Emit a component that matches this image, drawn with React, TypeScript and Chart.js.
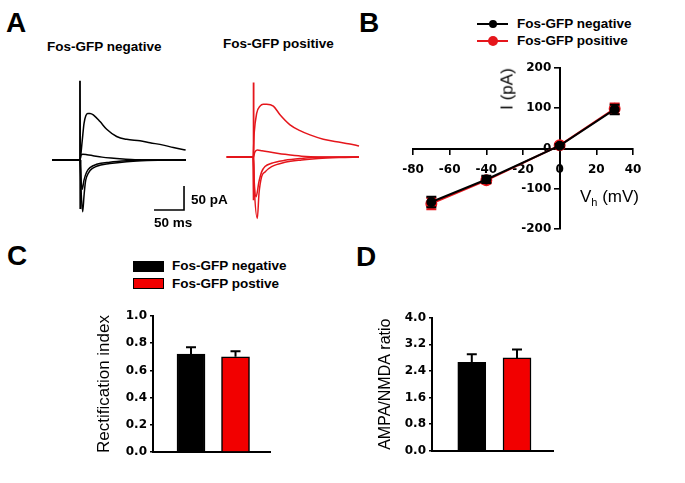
import React, { useEffect, useRef } from "react";
import { Chart, registerables } from "chart.js";
Chart.register(...registerables);

const BLACK = "#000000";
const RED_LINE = "#e5161c";
const RED_BAR = "#f20000";
const SANS = '"Liberation Sans", Arial, sans-serif';
const TICK_FONT = { family: '"DejaVu Sans", sans-serif', size: 12, weight: "bold" as const };

// ---------- Panel A: example traces, [time (ms), current (pA)] ----------
const negTraceUpper = [[11.7, 0], [57, 0], [58.3, 0], [62, 40], [65, 76], [68, 92], [71.1, 97], [75, 97], [80.5, 94], [91.7, 80], [102.8, 64], [119.4, 49], [136.1, 43], [158.3, 40], [175, 36], [197.2, 31], [213.9, 26], [234.4, 21]];
const negTraceSmall = [[11.7, 0], [58.3, 0], [60, 10], [63, 12], [70, 11], [80, 9], [95, 6], [110, 4], [130, 2], [150, 0.5], [235, 0]];
const negTraceDeep = [[11.7, 0], [58.3, 0], [60, -60], [62.8, -108], [65, -75], [67.2, -47], [69.4, -35], [75, -22], [86, -13], [108, -7.5], [136, -3.5], [170, -1], [235, 0]];
const negTraceMid = [[11.7, 0], [58.3, 0], [60, -40], [62, -61], [65, -42], [69.4, -25], [75, -16], [86, -9], [108, -4.5], [140, -1.5], [170, 0], [235, 0]];
const negArtifact = [[58.0, 0], [58.3, 165], [58.8, -100], [59.3, 0]];

const posTraceUpper = [[11.1, 0], [55, 0], [57, 50], [61.1, 91], [66.7, 106], [72, 110], [77.8, 110], [88.9, 106], [100, 88], [116.7, 67], [133.3, 55], [150, 46], [172.2, 37], [194.4, 32], [216.7, 27], [231.7, 23]];
const posTraceSmall = [[11.1, 0], [55.5, 0], [58, 10], [62, 14.6], [70, 13], [80.6, 11], [95, 8], [108, 5.6], [136, 1.6], [164, 0], [231.7, 0]];
const posTraceDeep = [[11.1, 0], [55.5, 0], [57, -60], [62.2, -128], [65, -76], [69.4, -41], [75, -31], [86, -20], [108, -11], [136, -6], [164, -3], [200, -1], [231.7, 0]];
const posTraceMid = [[11.1, 0], [55.5, 0], [57, -50], [60, -83], [65, -51], [69.4, -31], [75, -20], [86, -13], [108, -7], [136, -3], [164, -0.5], [231.7, 0]];
const posArtifact = [[55.2, 0], [55.5, 155], [56, -90], [56.5, 0]];

// scale bar: 50 ms x 50 pA
const scaleBarTime = [181.7, 231.7, 231.7];
const scaleBarCurrent = [-104.2, -104.2, -54.2];

// ---------- Panel B: I-V ----------
const ivVoltage = [-70, -40, 0, 30];
const ivNegCurrent = [-133, -77, 7, 97];
const ivNegSem = [13, 9, 4, 12];
const ivPosCurrent = [-137, -79, 8, 99];
const ivPosSem = [14, 8, 4, 13];

// ---------- Panels C & D ----------
const groups = ["Fos-GFP negative", "Fos-GFP postive"];
const rectIndex = [0.72, 0.7];
const rectSem = [0.05, 0.04];
const ampaNmda = [2.66, 2.79];
const ampaNmdaSem = [0.24, 0.25];

const errorBarPlugin = {
  id: "errorBars",
  afterDatasetDraw(chart: any, args: any) {
    const ds: any = chart.data.datasets[args.index];
    if (!ds.errors) return;
    const meta = chart.getDatasetMeta(args.index);
    const yScale = chart.scales[meta.yAxisID];
    const ctx = chart.ctx;
    ctx.save();
    ctx.strokeStyle = ds.errorColor;
    ctx.lineWidth = ds.errorWidth || 2;
    meta.data.forEach((el: any, i: number) => {
      const raw = ds.data[i];
      const v = typeof raw === "number" ? raw : raw.y;
      const e = ds.errors[i];
      const x = el.x;
      const yTop = yScale.getPixelForValue(v + e);
      const yBot = ds.errorUpOnly ? el.y : yScale.getPixelForValue(v - e);
      const cap = ds.errorCap / 2;
      ctx.beginPath();
      ctx.moveTo(x, yBot);
      ctx.lineTo(x, yTop);
      ctx.moveTo(x - cap, yTop);
      ctx.lineTo(x + cap, yTop);
      if (!ds.errorUpOnly) {
        ctx.moveTo(x - cap, yBot);
        ctx.lineTo(x + cap, yBot);
      }
      ctx.stroke();
    });
    ctx.restore();
  },
};

const toXY = (pts: number[][]) => pts.map(([x, y]) => ({ x, y }));

function traceConfig(traces: number[][][], artifact: number[][], color: string, withBar: boolean): any {
  const datasets: any[] = traces.map((t) => ({
    data: toXY(t),
    borderColor: color,
    borderWidth: 1.5,
    pointRadius: 0,
    cubicInterpolationMode: "monotone",
    fill: false,
  }));
  datasets.push({ data: toXY(artifact), borderColor: color, borderWidth: 1.8, pointRadius: 0, tension: 0, fill: false });
  if (withBar) {
    datasets.push({
      data: scaleBarTime.map((t, i) => ({ x: t, y: scaleBarCurrent[i] })),
      borderColor: BLACK,
      borderWidth: 1.6,
      pointRadius: 0,
      tension: 0,
      fill: false,
    });
  }
  return {
    type: "line",
    data: { datasets },
    options: {
      animation: false,
      responsive: false,
      events: [],
      plugins: { legend: { display: false }, tooltip: { enabled: false } },
      layout: { padding: 0 },
      scales: {
        x: { type: "linear", display: false, min: 0, max: 250 },
        y: { type: "linear", display: false, min: -137.5, max: 175 },
      },
    },
  };
}

const axisGrid = (tickLength: number) => ({
  drawOnChartArea: false,
  drawTicks: true,
  tickLength,
  lineWidth: 1.6,
  color: BLACK,
});
const axisBorder = { display: true, color: BLACK, width: 2 };

function ivConfig(): any {
  return {
    type: "line",
    data: {
      datasets: [
        {
          label: "Fos-GFP negative",
          data: ivVoltage.map((v, i) => ({ x: v, y: ivNegCurrent[i] })),
          borderColor: BLACK,
          backgroundColor: BLACK,
          pointBackgroundColor: BLACK,
          pointBorderColor: BLACK,
          borderWidth: 2,
          pointRadius: 4,
          tension: 0,
          errors: ivNegSem,
          errorColor: BLACK,
          errorCap: 10,
        },
        {
          label: "Fos-GFP positive",
          data: ivVoltage.map((v, i) => ({ x: v, y: ivPosCurrent[i] })),
          borderColor: RED_LINE,
          backgroundColor: RED_LINE,
          pointBackgroundColor: RED_LINE,
          pointBorderColor: RED_LINE,
          borderWidth: 2,
          pointRadius: 5,
          tension: 0,
          errors: ivPosSem,
          errorColor: RED_LINE,
          errorCap: 10,
        },
      ],
    },
    options: {
      animation: false,
      responsive: false,
      events: [],
      plugins: { legend: { display: false }, tooltip: { enabled: false } },
      layout: { padding: { left: 33, right: 47, top: 18, bottom: 16 } },
      scales: {
        x: {
          type: "linear",
          min: -80,
          max: 40,
          position: { y: 0 },
          ticks: { stepSize: 20, font: TICK_FONT, color: BLACK, padding: 9 },
          grid: axisGrid(5),
          border: axisBorder,
        },
        y: {
          type: "linear",
          min: -200,
          max: 200,
          position: { x: 0 },
          // labels of an axis placed at x=0 are drawn flush with the axis; trailing spaces leave the tick gap
          ticks: { stepSize: 100, font: TICK_FONT, color: BLACK, callback: (v: any) => `${v}\u00a0\u00a0` },
          grid: axisGrid(5),
          border: axisBorder,
        },
      },
    },
    plugins: [errorBarPlugin],
  };
}

function barConfig(values: number[], sems: number[], yMax: number, step: number, title: string, titleSize: number, titlePad: number, xMin: number, xMax: number, yWidth: number, xHeight: number, pad: any): any {
  return {
    type: "bar",
    data: {
      labels: groups,
      datasets: [
        {
          data: values.map((v, i) => ({ x: i, y: v })),
          backgroundColor: [BLACK, RED_BAR],
          borderColor: BLACK,
          borderWidth: 1.5,
          barThickness: 28,
          errors: sems,
          errorUpOnly: true,
          errorColor: BLACK,
          errorCap: 10,
        },
      ],
    },
    options: {
      animation: false,
      responsive: false,
      events: [],
      plugins: { legend: { display: false }, tooltip: { enabled: false } },
      layout: { padding: pad },
      scales: {
        x: {
          type: "linear",
          offset: false,
          bounds: "data",
          min: xMin,
          max: xMax,
          ticks: { display: false },
          grid: { display: false, offset: false },
          border: axisBorder,
          afterFit: (s: any) => {
            s.height = xHeight;
          },
        },
        y: {
          type: "linear",
          min: 0,
          max: yMax,
          ticks: { stepSize: step, font: TICK_FONT, color: BLACK, padding: 3, callback: (v: any) => Number(v).toFixed(1) },
          grid: axisGrid(3),
          border: axisBorder,
          title: { display: true, text: title, color: BLACK, font: { family: SANS, size: titleSize, weight: "normal" }, padding: { top: titlePad, bottom: 0 } },
          afterFit: (s: any) => {
            s.width = yWidth;
          },
        },
      },
    },
    plugins: [errorBarPlugin],
  };
}

function ChartCanvas({ left, top, width, height, makeConfig }: any) {
  const ref = useRef<HTMLCanvasElement>(null);
  useEffect(() => {
    const chart = new Chart(ref.current as HTMLCanvasElement, makeConfig());
    return () => chart.destroy();
  }, []);
  return <canvas ref={ref} width={width} height={height} style={{ position: "absolute", left, top, width, height }} />;
}

function T({ x, y, size, bold, children }: any) {
  return (
    <div
      style={{
        position: "absolute",
        left: x,
        top: y - size / 2,
        fontSize: size,
        lineHeight: 1,
        fontWeight: bold ? 700 : 400,
        fontFamily: SANS,
        whiteSpace: "nowrap",
        color: BLACK,
      }}
    >
      {children}
    </div>
  );
}

function LegendLine({ x, y, color, r }: any) {
  return (
    <>
      <div style={{ position: "absolute", left: x, top: y - 1, width: 31, height: 2, background: color }} />
      <div style={{ position: "absolute", left: x + 15.5 - r, top: y - r, width: 2 * r, height: 2 * r, borderRadius: "50%", background: color }} />
    </>
  );
}

function Swatch({ x, y, color }: any) {
  return (
    <div style={{ position: "absolute", left: x, top: y, width: 31, height: 11, background: color, border: "1px solid #000", boxSizing: "border-box" }} />
  );
}

export default function App() {
  return (
    <div style={{ position: "absolute", left: 0, top: 0, width: 685, height: 483, background: "#fff", overflow: "hidden" }}>
      {/* Panel A */}
      <T x={6} y={23} size={28} bold>A</T>
      <T x={47} y={47} size={13.5} bold>Fos-GFP negative</T>
      <T x={223} y={44} size={13.5} bold>Fos-GFP positive</T>
      <ChartCanvas left={45} top={76} width={150} height={150}
        makeConfig={() => traceConfig([negTraceUpper, negTraceSmall, negTraceDeep, negTraceMid], negArtifact, BLACK, true)} />
      <ChartCanvas left={220} top={73} width={150} height={150}
        makeConfig={() => traceConfig([posTraceUpper, posTraceSmall, posTraceDeep, posTraceMid], posArtifact, RED_LINE, false)} />
      <T x={191} y={199.5} size={13.5} bold>50 pA</T>
      <T x={154} y={223} size={13.5} bold>50 ms</T>

      {/* Panel B */}
      <T x={359} y={23} size={28} bold>B</T>
      <LegendLine x={477} y={24} color={BLACK} r={4} />
      <LegendLine x={477} y={41} color={RED_LINE} r={5} />
      <T x={517} y={23.5} size={13.5} bold>Fos-GFP negative</T>
      <T x={517} y={41} size={13.5} bold>Fos-GFP positive</T>
      <ChartCanvas left={380} top={50} width={300} height={195} makeConfig={ivConfig} />
      <div style={{ position: "absolute", left: 507, top: 89, transform: "translate(-50%,-50%) rotate(-90deg)", fontFamily: SANS, fontSize: 17, lineHeight: 1, whiteSpace: "nowrap", color: BLACK }}>I (pA)</div>
      <div style={{ position: "absolute", left: 580, top: 196 - 8.5, fontFamily: SANS, fontSize: 17, lineHeight: 1, whiteSpace: "nowrap", color: BLACK }}>
        V<sub style={{ fontSize: 11, verticalAlign: -4, lineHeight: 0 }}>h</sub> (mV)
      </div>

      {/* Panel C */}
      <T x={7} y={256} size={28} bold>C</T>
      <Swatch x={133} y={261} color={BLACK} />
      <Swatch x={133} y={278} color={RED_BAR} />
      <T x={172} y={266} size={13.5} bold>{groups[0]}</T>
      <T x={172} y={283.7} size={13.5} bold>{groups[1]}</T>
      <ChartCanvas left={60} top={290} width={240} height={190}
        makeConfig={() => barConfig(rectIndex, rectSem, 1.0, 0.2, "Rectification index", 17, 33.8, -0.854, 1.775, 93, 28, { left: 0, right: 30, top: 26, bottom: 0 })} />

      {/* Panel D */}
      <T x={356} y={256.5} size={28} bold>D</T>
      <ChartCanvas left={340} top={290} width={240} height={190}
        makeConfig={() => barConfig(ampaNmda, ampaNmdaSem, 4.0, 0.8, "AMPA/NMDA ratio", 16, 36.4, -0.88, 1.796, 92, 29.3, { left: 0, right: 27, top: 27.7, bottom: 0 })} />
    </div>
  );
}
